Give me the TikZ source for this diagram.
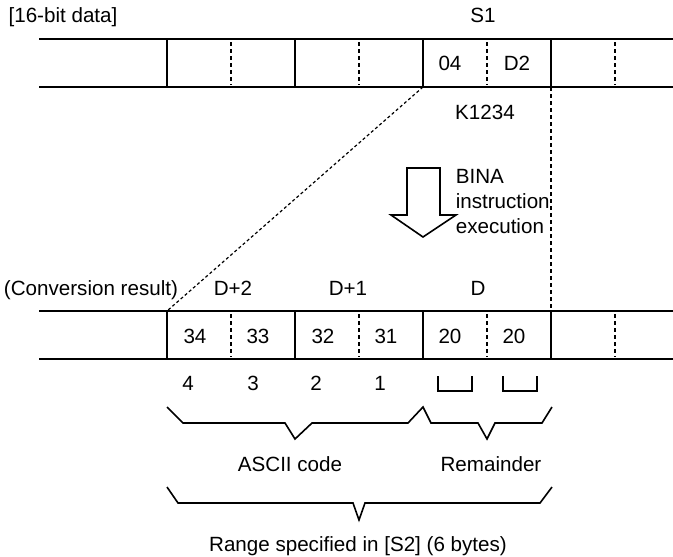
\documentclass[tikz,border=0pt]{standalone}
\usepackage{fontspec}
\setmainfont{Liberation Sans}
\begin{document}
\begin{tikzpicture}[x=1pt, y=-1pt, line width=1.6pt,
    half/.style={line width=1.5pt, dash pattern=on 4pt off 3pt},
    guide/.style={line width=1.2pt, dash pattern=on 3pt off 2.5pt},
    lbl/.style={font=\fontsize{20.6}{25}\selectfont, inner sep=0pt, text height=14.7pt, text depth=0pt}]
    \useasboundingbox (0,0) rectangle (673,557);

    % source register (S1)
    \draw (39,39) -- (673,39);
    \draw (39,87) -- (673,87);
    \foreach \x in {167,295,423,551} \draw (\x,39) -- (\x,87);
    \foreach \x in {231,359,487,615} \draw[half] (\x,42) -- (\x,85);
    \coordinate (srcw) at (423,87);
    \coordinate (srce) at (551,87);

    % result register (D+2, D+1, D)
    \draw (39,311) -- (673,311);
    \draw (39,359) -- (673,359);
    \foreach \x in {167,295,423,551} \draw (\x,311) -- (\x,359);
    \foreach \x in {231,359,487,615} \draw[half] (\x,314) -- (\x,357);
    \coordinate (dstw) at (167,311);
    \coordinate (dste) at (551,311);

    \draw[guide] (srcw) -- (dstw);
    \draw[half] (srce) -- (dste);

    \node[lbl] (title) at (63,15) {[16-bit data]};
    \node[lbl] (s1) at (483,15) {S1};
    \node[lbl] (hi) at (450,63) {04};
    \node[lbl] (lo) at (517,63) {D2};
    \node[lbl] (konst) at (485,112) {K1234};

    % execution arrow
    \draw[line join=miter] (407,168) -- (440,168) -- (440,215) -- (456,215) -- (423,237)
        -- (391,215) -- (407,215) -- cycle;
    \node[lbl, anchor=west, align=left, text height=, text depth=] (exec) at (455,202)
        {BINA\\instruction\\execution};

    \node[lbl] (result) at (91,288) {(Conversion result)};
    \node[lbl] (d2) at (233,288) {D+2};
    \node[lbl] (d1) at (348,288) {D+1};
    \node[lbl] (d0) at (478,288) {D};

    \foreach \x/\t in {195/34, 258/33, 323/32, 386/31, 450/20, 514/20}
        \node[lbl] at (\x,336) {\t};
    \foreach \x/\t in {188/4, 253/3, 316/2, 380/1}
        \node[lbl] at (\x,383) {\t};
    \foreach \x in {438,503}
        \draw (\x,376) -- (\x,391) -- (\x+34,391) -- (\x+34,376);

    % braces
    \draw (167,407) -- (183,423) -- (285,423) -- (295,439) -- (312,423)
        -- (408,423) -- (423,407) -- (431,423) -- (478,423) -- (487,439)
        -- (495,423) -- (542,423) -- (552,407);
    \node[lbl] (ascii) at (290,464) {ASCII code};
    \node[lbl] (rest) at (491,464) {Remainder};

    \draw (167,487) -- (178,503) -- (353,503) -- (359,520) -- (365,503)
        -- (540,503) -- (552,487);
    \node[lbl] (range) at (358,544) {Range specified in [S2] (6 bytes)};
\end{tikzpicture}
\end{document}
